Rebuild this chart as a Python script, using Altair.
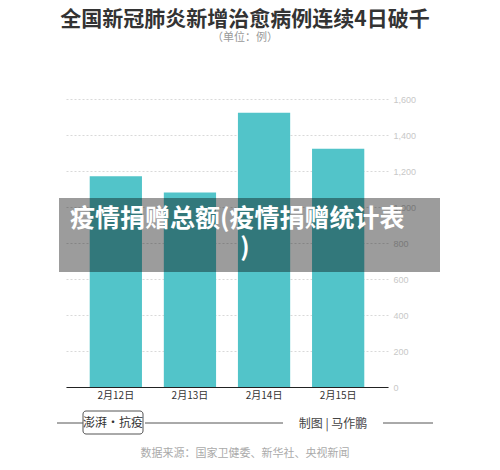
import altair as alt
import pandas as pd

# ---- data ----
categories = ["2月12日", "2月13日", "2月14日", "2月15日"]
values = [1171, 1081, 1524, 1323]
y_ticks = [0, 200, 400, 600, 800, 1000, 1200, 1400, 1600]

title_text = "全国新冠肺炎新增治愈病例连续4日破千"
subtitle_text = "（单位：例）"
overlay_line1 = "疫情捐赠总额(疫情捐赠统计表"
overlay_line2 = ")"
logo_text = "澎湃·抗疫"
credit_text = "制图 | 马作鹏"
source_text = "数据来源：国家卫健委、新华社、央视新闻"

df = pd.DataFrame({"date": categories, "cases": values})

FONT = "Noto Sans CJK SC"

bars = alt.Chart(df).mark_bar(color="#52C4C9").encode(
    x=alt.X(
        "date:N",
        sort=categories,
        scale=alt.Scale(paddingInner=0.295, paddingOuter=0.32),
        axis=alt.Axis(
            title=None, labelAngle=0, ticks=False, grid=False,
            domainColor="#222222", domainWidth=1,
            labelFontSize=10, labelColor="#333333", labelPadding=3,
            labelFont=FONT,
        ),
    ),
    y=alt.Y(
        "cases:Q",
        scale=alt.Scale(domain=[0, 1600], nice=False),
        axis=alt.Axis(
            title=None, orient="right", values=y_ticks, format=",.0f",
            grid=True, gridDash=[2, 2], gridColor="#d9d9d9",
            domain=False, ticks=False, labelColor="#c8c8c8",
            labelFontSize=9, labelPadding=5, labelFont="Liberation Sans",
        ),
    ),
)


def one(text=""):
    return alt.Data(values=[{"t": text}])


def note(text, x, y, **kw):
    return alt.Chart(one(text)).mark_text(font=FONT, **kw).encode(
        x=alt.value(x), y=alt.value(y), text="t:N"
    )


def hline(x1, x2, y, color="#555555"):
    return alt.Chart(one()).mark_rule(color=color, strokeWidth=1).encode(
        x=alt.value(x1), x2=alt.value(x2), y=alt.value(y)
    )


overlay = alt.Chart(one()).mark_rect(color="black", opacity=0.39).encode(
    x=alt.value(-7), x2=alt.value(374), y=alt.value(99), y2=alt.value(173)
)

logo_box = alt.Chart(one()).mark_rect(
    fill="white", stroke="#555555", strokeWidth=1, cornerRadius=3
).encode(x=alt.value(17), x2=alt.value(77), y=alt.value(312), y2=alt.value(335))

layers = [
    bars,
    overlay,
    note(overlay_line1, 4, 120, align="left", baseline="middle",
         fontSize=25, fontWeight="bold", color="white"),
    note(overlay_line2, 179, 149, align="center", baseline="middle",
         fontSize=25, fontWeight="bold", color="white"),
    note(title_text, 179, -79, align="center", baseline="middle",
         fontSize=21, fontWeight="bold", color="#333333"),
    note(subtitle_text, 179, -61, align="center", baseline="middle",
         fontSize=11, color="#999999"),
    hline(-9, 17, 324),
    logo_box,
    note(logo_text, 47, 324, align="center", baseline="middle",
         fontSize=12, color="#333333"),
    hline(79, 217, 324),
    note(credit_text, 267, 325, align="center", baseline="middle",
         fontSize=12, color="#444444"),
    hline(317, 367, 324),
    note(source_text, 179, 355, align="center", baseline="middle",
         fontSize=11, color="#aaaaaa"),
]

chart = alt.layer(*layers).properties(
    width=322,
    height=288,
    autosize=alt.AutoSizeParams(type="none"),
    padding={"left": 58, "top": 91, "right": 104, "bottom": 75},
).configure_view(strokeWidth=0)

chart.save("out.html", embed_options={"renderer": "svg", "actions": False})
